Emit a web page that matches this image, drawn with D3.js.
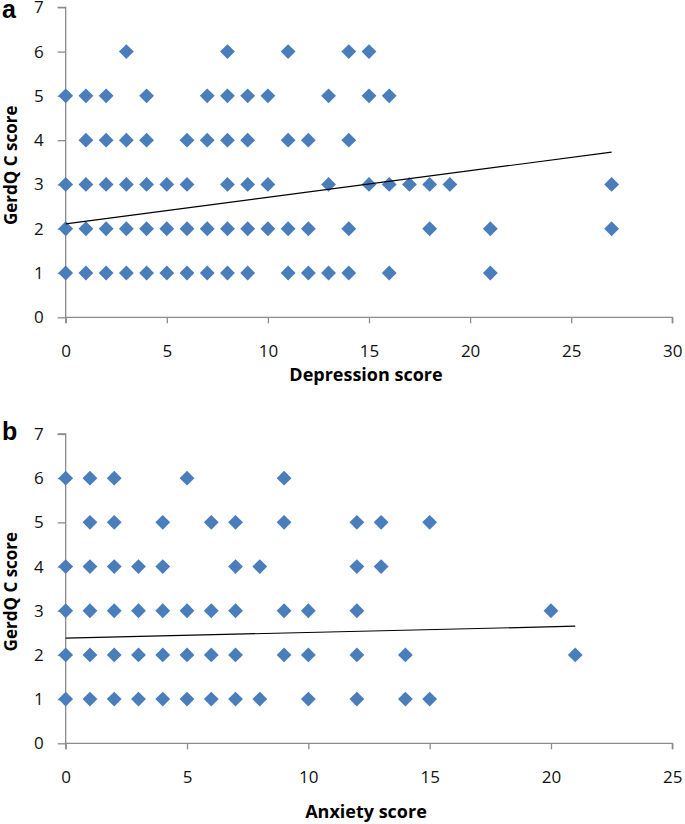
<!DOCTYPE html>
<html>
<head>
<meta charset="utf-8">
<script src="https://cdn.jsdelivr.net/npm/d3@7"></script>
<style>
  html, body { margin: 0; padding: 0; background: #fff; }
  svg { display: block; }
</style>
</head>
<body>
<svg id="chart" width="685" height="824"></svg>
<script>
// ---------- DATA ----------
const yTicks = [0, 1, 2, 3, 4, 5, 6, 7];
const xTicksA = [0, 5, 10, 15, 20, 25, 30];
const xTicksB = [0, 5, 10, 15, 20, 25];

// Panel a: Depression score vs GerdQ C score (x values per GerdQ level)
const depAtY6 = [3, 8, 11, 14, 15];
const depAtY5 = [0, 1, 2, 4, 7, 8, 9, 10, 13, 15, 16];
const depAtY4 = [1, 2, 3, 4, 6, 7, 8, 9, 11, 12, 14];
const depAtY3 = [0, 1, 2, 3, 4, 5, 6, 8, 9, 10, 13, 15, 16, 17, 18, 19, 27];
const depAtY2 = [0, 1, 2, 3, 4, 5, 6, 7, 8, 9, 10, 11, 12, 14, 18, 21, 27];
const depAtY1 = [0, 1, 2, 3, 4, 5, 6, 7, 8, 9, 11, 12, 13, 14, 16, 21];
const depTrend = [[0, 2.11], [27, 3.73]];

// Panel b: Anxiety score vs GerdQ C score
const anxAtY6 = [0, 1, 2, 5, 9];
const anxAtY5 = [1, 2, 4, 6, 7, 9, 12, 13, 15];
const anxAtY4 = [0, 1, 2, 3, 4, 7, 8, 12, 13];
const anxAtY3 = [0, 1, 2, 3, 4, 5, 6, 7, 9, 10, 12, 20];
const anxAtY2 = [0, 1, 2, 3, 4, 5, 6, 7, 9, 10, 12, 14, 21];
const anxAtY1 = [0, 1, 2, 3, 4, 5, 6, 7, 8, 10, 12, 14, 15];
const anxTrend = [[0, 2.38], [21, 2.65]];

function toPoints(rows) {
  const pts = [];
  rows.forEach(([yv, xs]) => xs.forEach(xv => pts.push([xv, yv])));
  return pts;
}
const depPoints = toPoints([[6, depAtY6], [5, depAtY5], [4, depAtY4], [3, depAtY3], [2, depAtY2], [1, depAtY1]]);
const anxPoints = toPoints([[6, anxAtY6], [5, anxAtY5], [4, anxAtY4], [3, anxAtY3], [2, anxAtY2], [1, anxAtY1]]);

// ---------- DRAW ----------
const svg = d3.select("#chart");
const FONT = "'Open Sans', 'Liberation Sans', sans-serif";
const AXIS = "#8c8c8c";
const BLUE = "#4a7ebb";

function panel(opts) {
  const { left, right, top, bottom, xMax, xTicks, points, trend, xTitle, letter, letterY, xTitleY } = opts;
  const x = d3.scaleLinear().domain([0, xMax]).range([left, right]);
  const y = d3.scaleLinear().domain([0, 7]).range([bottom, top]);
  const g = svg.append("g");

  // y axis
  const ya = g.append("g").attr("transform", `translate(${left},0)`)
    .call(d3.axisLeft(y).tickValues(yTicks).tickSize(8).tickPadding(14).tickFormat(d3.format("d")));
  // x axis
  const xa = g.append("g").attr("transform", `translate(0,${bottom})`)
    .call(d3.axisBottom(x).tickValues(xTicks).tickSize(6).tickFormat(d3.format("d")));
  [ya, xa].forEach(a => {
    a.select(".domain").attr("stroke", AXIS).attr("stroke-width", 1.3);
    a.selectAll(".tick line").attr("stroke", AXIS).attr("stroke-width", 1.3);
    a.selectAll(".tick text").attr("fill", "#111").style("font-family", FONT).style("font-size", "17px");
  });
  xa.selectAll(".tick text").attr("y", 34).attr("dy", "0.36em");
  ya.select(".domain").attr("d", `M-8,${y(7)}H0V${y(0)}`);
  xa.select(".domain").attr("d", `M${x(0)},6V0H${x(xMax)}V6`);

  // points
  g.append("g").selectAll("path").data(points).join("path")
    .attr("d", d3.symbol(d3.symbolSquare, 110)())
    .attr("transform", d => `translate(${x(d[0])},${y(d[1])}) rotate(45)`)
    .attr("fill", BLUE);

  // trend line
  g.append("path").datum(trend)
    .attr("d", d3.line().x(d => x(d[0])).y(d => y(d[1])))
    .attr("stroke", "#000").attr("stroke-width", 1.2).attr("fill", "none");

  // titles
  g.append("text").attr("x", (left + right) / 2 - 3).attr("y", xTitleY)
    .attr("text-anchor", "middle").attr("dy", "0.36em").attr("fill", "#000")
    .style("font-family", FONT).style("font-size", "18px").style("font-weight", "bold")
    .text(xTitle);
  g.append("text")
    .attr("transform", `translate(17,${(top + bottom) / 2 + 3}) rotate(-90)`)
    .attr("text-anchor", "middle").attr("fill", "#000")
    .style("font-family", FONT).style("font-size", "17px").style("font-weight", "bold")
    .text("GerdQ C score");
  g.append("text").attr("x", 2).attr("y", letterY)
    .attr("fill", "#000")
    .style("font-family", "'Liberation Sans', Arial, sans-serif").style("font-size", "25px").style("font-weight", "bold")
    .text(letter);
}

panel({ left: 65.7, right: 672.3, top: 7.3, bottom: 317.3, xMax: 30, xTicks: xTicksA,
  points: depPoints, trend: depTrend, xTitle: "Depression score", letter: "a", letterY: 18, xTitleY: 375 });
panel({ left: 65.7, right: 672.3, top: 434, bottom: 743.3, xMax: 25, xTicks: xTicksB,
  points: anxPoints, trend: anxTrend, xTitle: "Anxiety score", letter: "b", letterY: 440, xTitleY: 812 });
</script>
</body>
</html>
